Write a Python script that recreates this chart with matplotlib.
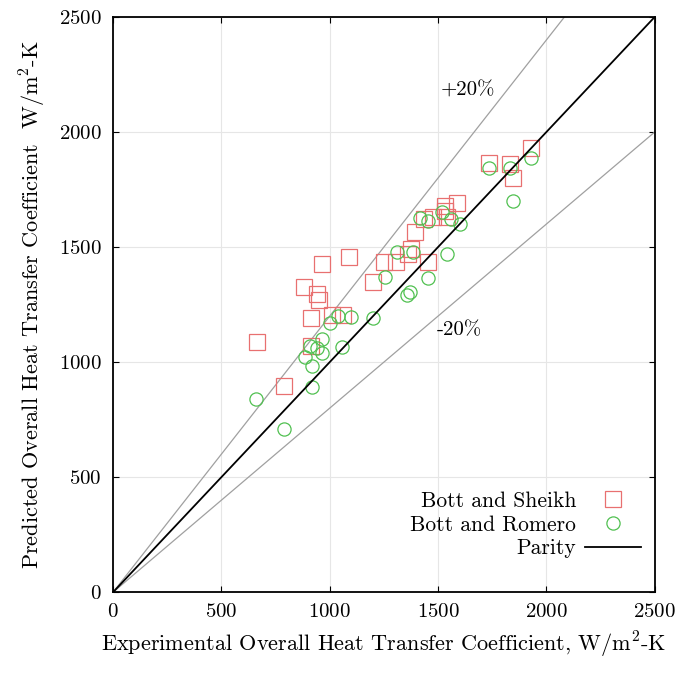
import numpy as np
import matplotlib
matplotlib.use('Agg')
import matplotlib.pyplot as plt

plt.rcParams['font.family'] = ['cmr10', 'DejaVu Serif']
plt.rcParams['mathtext.fontset'] = 'cm'
plt.rcParams['axes.formatter.use_mathtext'] = True

# Bott and Sheikh (experimental, predicted)
sheikh_x = [664, 790, 880, 940, 950, 913, 915, 964, 1090, 1010, 1060, 1200, 1250, 1305,
            1360, 1375, 1393, 1453, 1435, 1476, 1530, 1530, 1587, 1540, 1735, 1830, 1845, 1930]
sheikh_y = [1087, 895, 1326, 1295, 1270, 1190, 1070, 1425, 1455, 1205, 1205, 1350, 1435, 1435,
            1470, 1490, 1565, 1435, 1620, 1630, 1680, 1655, 1690, 1630, 1865, 1860, 1800, 1930]

# Bott and Romero
romero_x = [660, 790, 918, 918, 886, 909, 941, 964, 964, 1001, 1040, 1100, 1056, 1200, 1255,
            1310, 1384, 1356, 1370, 1453, 1453, 1540, 1416, 1520, 1560, 1600, 1735, 1830, 1930, 1845]
romero_y = [840, 710, 890, 985, 1020, 1070, 1060, 1040, 1100, 1170, 1200, 1196, 1065, 1190, 1370,
            1480, 1480, 1290, 1305, 1365, 1615, 1470, 1625, 1650, 1620, 1600, 1843, 1845, 1885, 1700]

ticks = [0, 500, 1000, 1500, 2000, 2500]
line_x = np.array([0, 2500])

fig = plt.figure(figsize=(6.85, 6.73), dpi=100)
ax = fig.add_axes([0.165, 0.12, 0.791, 0.855])

ax.plot(line_x, 1.2 * line_x, color='#a0a0a0', lw=0.9)
ax.plot(line_x, 0.8 * line_x, color='#a0a0a0', lw=0.9)

ax.plot(sheikh_x, sheikh_y, 's', ms=11, mfc='none', mec='#e87070', mew=0.9,
        label='Bott and Sheikh')
ax.plot(romero_x, romero_y, 'o', ms=9.5, mfc='none', mec='#50c050', mew=0.9,
        label='Bott and Romero')
ax.plot(line_x, line_x, color='black', lw=1.3, label='Parity')

ax.text(1510, 2180, '+20%', fontsize=15, va='center')
ax.text(1495, 1140, '-20%', fontsize=15, va='center')

ax.set_xlim(0, 2500)
ax.set_ylim(0, 2500)
ax.set_xticks(ticks)
ax.set_yticks(ticks)
ax.grid(True, color='#e6e6e6', lw=0.8)
ax.tick_params(direction='in', top=True, right=True, labelsize=15, length=4, pad=8)
for s in ax.spines.values():
    s.set_linewidth(1.3)

ax.set_xlabel('Experimental Overall Heat Transfer Coefficient, W/m$^2$-K', fontsize=16, labelpad=6)
ax.set_ylabel('Predicted Overall Heat Transfer Coefficient  W/m$^2$-K', fontsize=16, labelpad=8)

ax.legend(loc='lower right', frameon=False, markerfirst=False, fontsize=15.5,
          handlelength=2.6, handletextpad=0.4, labelspacing=0.2,
          bbox_to_anchor=(1.01, 0.025))

fig.savefig('out.png', dpi=100)
